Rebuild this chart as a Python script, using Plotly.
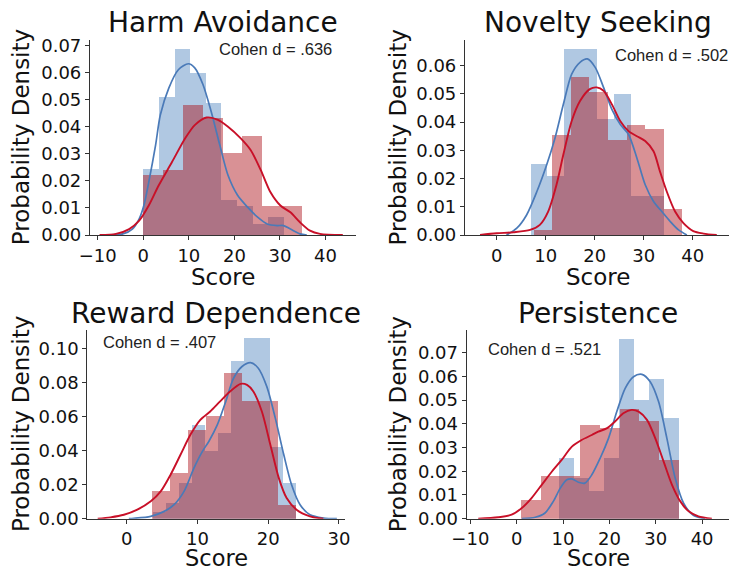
import plotly.graph_objects as go

W, H = 729, 571

# ---------------- data ----------------
titles = ["Harm Avoidance", "Novelty Seeking", "Reward Dependence", "Persistence"]
cohen_labels = ["Cohen d = .636", "Cohen d = .502", "Cohen d = .407", "Cohen d = .521"]

# Harm Avoidance
ha_blue_edges = [0.0, 3.43, 6.86, 10.29, 13.72, 17.15, 20.58, 24.01, 27.44, 30.87]
ha_blue_dens = [0.0243, 0.0511, 0.0690, 0.0600, 0.0488, 0.0130, 0.0109, 0.0041, 0.0066]
ha_red_edges = [0.0, 4.35, 8.7, 13.05, 17.4, 21.75, 26.1, 30.45, 34.8]
ha_red_dens = [0.0224, 0.0240, 0.0482, 0.0435, 0.0302, 0.0368, 0.0109, 0.0109]
ha_blue_kde_x = [-8.9, -4.5, -2.4, -0.9, 0.14, 1.2, 2.7, 3.75, 5.6, 7.7, 9.9, 11.3, 13.1, 14.9, 16.8, 18.6,
                 20.7, 22.9, 25.1, 27.2, 29.4, 30.8, 32.3, 34.4, 35.9]
ha_blue_kde_y = [0.0, 0.0004, 0.0022, 0.006, 0.011, 0.0196, 0.0333, 0.0445, 0.0544, 0.0612, 0.0634, 0.0619,
                 0.0557, 0.0457, 0.0333, 0.0221, 0.0147, 0.0103, 0.0066, 0.0041, 0.0035, 0.0035, 0.0022,
                 0.0004, 0.0]
ha_red_kde_x = [-9.6, -6.0, -3.1, -0.9, 1.2, 3.4, 6.3, 9.2, 11.3, 13.9, 16.4, 18.6, 21.4, 23.6, 25.8, 27.9,
                30.1, 32.3, 34.4, 36.6, 38.8, 43.8]
ha_red_kde_y = [0.0, 0.0004, 0.0022, 0.0053, 0.0109, 0.0184, 0.027, 0.0358, 0.0407, 0.0435, 0.0426, 0.0401,
                0.0358, 0.0314, 0.024, 0.0159, 0.0109, 0.0084, 0.0047, 0.0016, 0.0004, 0.0]

# Novelty Seeking
ns_blue_edges = [6.94, 10.34, 13.74, 17.14, 20.54, 23.94, 27.34, 30.74, 34.14]
ns_blue_dens = [0.0250, 0.0210, 0.0660, 0.0660, 0.0412, 0.0500, 0.0137, 0.0137]
ns_red_edges = [7.55, 11.34, 15.13, 18.92, 22.71, 26.5, 30.29, 34.08, 37.87]
ns_red_dens = [0.0018, 0.0354, 0.0560, 0.0505, 0.0336, 0.0390, 0.0374, 0.0091]
ns_blue_kde_x = [2.0, 4.1, 6.1, 8.2, 10.2, 11.9, 13.6, 15.3, 17.0, 18.5, 20.1, 21.8, 23.5, 25.2, 26.9, 28.6,
                 30.3, 32.0, 33.7, 35.4, 37.1, 38.8]
ns_blue_kde_y = [0.0, 0.0024, 0.0071, 0.0154, 0.0249, 0.0344, 0.0463, 0.057, 0.0612, 0.0624, 0.0594, 0.0523,
                 0.0445, 0.0392, 0.0356, 0.0273, 0.0178, 0.0119, 0.0083, 0.0048, 0.0018, 0.0]
ns_red_kde_x = [-3.4, 0.0, 3.4, 6.8, 8.8, 10.5, 12.2, 13.6, 15.3, 17.0, 19.0, 20.4, 21.8, 23.5, 25.2, 26.9,
                28.6, 30.3, 32.0, 33.3, 34.7, 36.4, 38.1, 40.1, 42.2, 44.9]
ns_red_kde_y = [0.0, 0.0006, 0.001, 0.0018, 0.0036, 0.0083, 0.0178, 0.0285, 0.0404, 0.0475, 0.0517, 0.0523,
                0.0511, 0.0463, 0.0404, 0.0368, 0.035, 0.0333, 0.0297, 0.0226, 0.0154, 0.0083, 0.0042,
                0.0014, 0.0005, 0.0]

# Reward Dependence
rd_blue_edges = [3.7, 5.54, 7.38, 9.22, 11.06, 12.9, 14.74, 16.58, 18.42, 20.26, 22.1, 23.94]
rd_blue_dens = [0.0040, 0.0090, 0.0210, 0.0547, 0.0400, 0.0500, 0.0928, 0.1060, 0.1060, 0.0420, 0.0209]
rd_red_edges = [3.62, 6.16, 8.7, 11.24, 13.78, 16.32, 18.86, 21.4, 23.94]
rd_red_dens = [0.0164, 0.0270, 0.0520, 0.0600, 0.0853, 0.0688, 0.0688, 0.0082]
rd_blue_kde_x = [0.3, 1.0, 3.4, 5.3, 6.7, 8.1, 9.5, 10.7, 11.6, 12.8, 14.0, 15.1, 16.3, 17.5, 18.6, 19.8,
                 21.0, 22.2, 23.3, 24.5, 25.9, 27.8, 29.7]
rd_blue_kde_y = [0.0, 0.0002, 0.0014, 0.0043, 0.0082, 0.016, 0.0297, 0.0395, 0.0453, 0.055, 0.0688, 0.0824,
                 0.0893, 0.0916, 0.0883, 0.0775, 0.059, 0.0375, 0.0199, 0.0082, 0.0023, 0.0004, 0.0]
rd_red_kde_x = [-4.1, -2.3, -0.4, 1.5, 3.4, 4.8, 6.2, 7.6, 9.0, 10.4, 11.8, 13.2, 14.6, 16.1, 17.0, 17.9,
                19.1, 20.3, 21.5, 22.6, 24.0, 25.9, 27.8]
rd_red_kde_y = [0.0, 0.0008, 0.0023, 0.0053, 0.0102, 0.016, 0.0258, 0.0375, 0.0492, 0.058, 0.0629, 0.0688,
                0.0746, 0.0791, 0.0785, 0.0746, 0.0629, 0.0434, 0.0238, 0.0121, 0.0053, 0.0014, 0.0]

# Persistence
pe_blue_edges = [9.0, 12.24, 15.48, 18.72, 21.96, 25.2, 28.44, 31.68, 34.92]
pe_blue_dens = [0.0258, 0.0170, 0.0118, 0.0258, 0.0760, 0.0500, 0.0590, 0.0426]
pe_red_edges = [0.94, 5.18, 9.42, 13.66, 17.9, 22.14, 26.38, 30.62, 34.86]
pe_red_dens = [0.0080, 0.0180, 0.0180, 0.0395, 0.0384, 0.0463, 0.0412, 0.0248]
pe_blue_kde_x = [1.1, 4.0, 6.1, 7.9, 9.4, 10.8, 11.9, 13.3, 14.7, 16.2, 18.0, 19.8, 21.6, 23.4, 25.2, 27.0,
                 28.8, 30.6, 32.4, 34.2, 36.0, 38.1, 40.6]
pe_blue_kde_y = [0.0, 0.0006, 0.0024, 0.0073, 0.0129, 0.0164, 0.0168, 0.0154, 0.015, 0.0185, 0.0255, 0.0339,
                 0.0452, 0.055, 0.0599, 0.0609, 0.0578, 0.0494, 0.0339, 0.0171, 0.0066, 0.0014, 0.0]
pe_red_kde_x = [-8.3, -4.0, -1.1, 1.1, 3.2, 5.4, 7.6, 9.7, 11.9, 14.0, 16.2, 17.6, 19.4, 21.2, 23.0, 24.8,
                26.3, 28.1, 29.9, 31.7, 33.5, 35.3, 37.1, 39.2, 42.1]
pe_red_kde_y = [0.0, 0.0006, 0.0017, 0.0045, 0.0087, 0.0143, 0.0199, 0.0248, 0.0304, 0.0332, 0.0353, 0.0367,
                0.0381, 0.041, 0.0445, 0.0459, 0.0452, 0.0417, 0.0339, 0.0241, 0.0143, 0.0073, 0.0031,
                0.001, 0.0]

x_ticks = [[-10, 0, 10, 20, 30, 40], [0, 10, 20, 30, 40], [0, 10, 20, 30], [-10, 0, 10, 20, 30, 40]]
y_ticks = [[0, 0.01, 0.02, 0.03, 0.04, 0.05, 0.06, 0.07],
           [0, 0.01, 0.02, 0.03, 0.04, 0.05, 0.06],
           [0, 0.02, 0.04, 0.06, 0.08, 0.10],
           [0, 0.01, 0.02, 0.03, 0.04, 0.05, 0.06, 0.07]]

panels = [
    (ha_blue_edges, ha_blue_dens, ha_red_edges, ha_red_dens, ha_blue_kde_x, ha_blue_kde_y, ha_red_kde_x, ha_red_kde_y),
    (ns_blue_edges, ns_blue_dens, ns_red_edges, ns_red_dens, ns_blue_kde_x, ns_blue_kde_y, ns_red_kde_x, ns_red_kde_y),
    (rd_blue_edges, rd_blue_dens, rd_red_edges, rd_red_dens, rd_blue_kde_x, rd_blue_kde_y, rd_red_kde_x, rd_red_kde_y),
    (pe_blue_edges, pe_blue_dens, pe_red_edges, pe_red_dens, pe_blue_kde_x, pe_blue_kde_y, pe_red_kde_x, pe_red_kde_y),
]

# ---------------- layout (pixel boxes of each axes) ----------------
# (left, right, top, bottom) in pixels
boxes = [(90, 356, 40, 235), (465, 729, 40, 235), (87.3, 345, 330, 518.7), (466.7, 729, 330, 518.7)]
x_ranges = [[-11.7, 46.7], [-6.47, 47.4], [-5.57, 30.85], [-10.79, 45.8]]
y_ranges = [[0, 0.0722], [0, 0.0691], [0, 0.1107], [0, 0.0796]]
cohen_pos = [(217, 49), (613, 55), (100.7, 341.7), (485.7, 349.3)]
score_y = [277, 277, 558, 558]
score_size = [23, 23, 22.5, 22.5]

BLUE_BAR = "rgba(58,118,182,0.40)"
RED_BAR = "rgba(170,10,20,0.45)"
BLUE_LINE = "rgb(74,122,184)"
RED_LINE = "rgb(200,16,40)"
AXIS_COL = "#333333"
FONT = "DejaVu Sans"


def px(x):
    return x / W


def py(y):
    return 1 - y / H


fig = go.Figure()
annotations = []
for i, (be, bd, re_, rdn, bkx, bky, rkx, rky) in enumerate(panels):
    n = i + 1
    xa = "x" if n == 1 else f"x{n}"
    ya = "y" if n == 1 else f"y{n}"
    for edges, dens, col in ((be, bd, BLUE_BAR), (re_, rdn, RED_BAR)):
        centers = [(edges[k] + edges[k + 1]) / 2 for k in range(len(dens))]
        widths = [edges[k + 1] - edges[k] for k in range(len(dens))]
        fig.add_trace(go.Bar(x=centers, y=dens, width=widths, marker=dict(color=col, line=dict(width=0)),
                             xaxis=xa, yaxis=ya, showlegend=False, hoverinfo="skip"))
    fig.add_trace(go.Scatter(x=bkx, y=bky, mode="lines", line=dict(color=BLUE_LINE, width=1.7, shape="spline",
                                                                  smoothing=0.8),
                             xaxis=xa, yaxis=ya, showlegend=False, hoverinfo="skip"))
    fig.add_trace(go.Scatter(x=rkx, y=rky, mode="lines", line=dict(color=RED_LINE, width=1.9, shape="spline",
                                                                  smoothing=0.8),
                             xaxis=xa, yaxis=ya, showlegend=False, hoverinfo="skip"))

    l, r, t, b = boxes[i]
    xkey = "xaxis" if n == 1 else f"xaxis{n}"
    ykey = "yaxis" if n == 1 else f"yaxis{n}"
    fig.layout[xkey] = dict(domain=[px(l), px(r)], range=x_ranges[i], anchor=ya, automargin=False,
                            tickvals=x_ticks[i], ticktext=[str(v).replace("-", "\u2212") for v in x_ticks[i]],
                            showline=True, linecolor=AXIS_COL, linewidth=1.2, ticks="outside", ticklen=4,
                            tickcolor=AXIS_COL, tickwidth=1.2, showgrid=False, zeroline=False,
                            tickfont=dict(family=FONT, size=18, color="#111111"), fixedrange=True)
    fig.layout[ykey] = dict(domain=[py(b), py(t)], range=y_ranges[i], anchor=xa, automargin=False,
                            tickvals=y_ticks[i], ticktext=[f"{v:.2f}" for v in y_ticks[i]],
                            showline=True, linecolor=AXIS_COL, linewidth=1.2, ticks="outside", ticklen=4,
                            tickcolor=AXIS_COL, tickwidth=1.2, showgrid=False, zeroline=False,
                            tickfont=dict(family=FONT, size=18, color="#111111"), fixedrange=True)

    cx = (l + r) / 2
    if i == 1 or i == 3:
        cx = (l + 730) / 2
    # title
    annotations.append(dict(text=titles[i], x=px(cx), y=py(t - 17), xref="paper", yref="paper",
                            xanchor="center", yanchor="middle", showarrow=False,
                            font=dict(family=FONT, size=28, color="#111111")))
    # x label
    annotations.append(dict(text="Score", x=px(cx), y=py(score_y[i]), xref="paper", yref="paper",
                            xanchor="center", yanchor="middle", showarrow=False, height=20,
                            font=dict(family=FONT, size=score_size[i], color="#111111")))
    # y label
    ylx = 21.7 if i in (0, 2) else 398
    annotations.append(dict(text="Probability Density", x=px(ylx), y=py((t + b) / 2), xref="paper", yref="paper",
                            xanchor="center", yanchor="middle", textangle=-90, showarrow=False,
                            font=dict(family=FONT, size=23, color="#111111")))
    # cohen
    cxp, cyp = cohen_pos[i]
    annotations.append(dict(text=cohen_labels[i], x=px(cxp), y=py(cyp), xref="paper", yref="paper",
                            xanchor="left", yanchor="middle", showarrow=False,
                            font=dict(family="Liberation Sans", size=16.5, color="#222222")))

fig.update_layout(width=W, height=H, margin=dict(l=0, r=0, t=0, b=0, autoexpand=False), barmode="overlay",
                  bargap=0, paper_bgcolor="white", plot_bgcolor="white", annotations=annotations,
                  showlegend=False)

fig.write_html("out.html", config={"displayModeBar": False})
